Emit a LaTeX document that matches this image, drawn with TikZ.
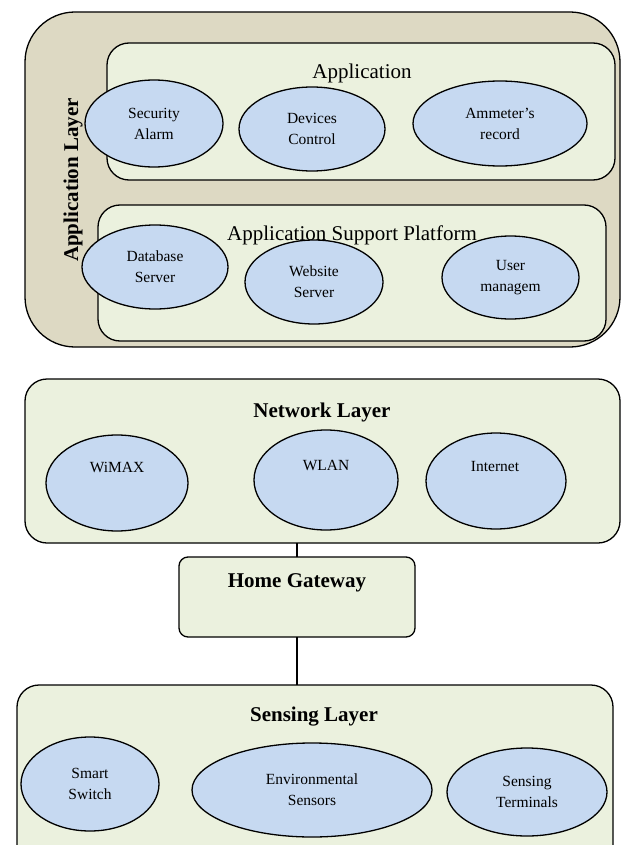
\documentclass[tikz,border=0pt]{standalone}
\usepackage{fontspec}
\setmainfont{Liberation Serif}
\usetikzlibrary{shapes.geometric}
\definecolor{tanbg}{RGB}{221,217,195}
\definecolor{greenbg}{RGB}{235,241,222}
\definecolor{ellblue}{RGB}{198,217,241}
\begin{document}
\begin{tikzpicture}[x=1pt,y=-1pt,
  every node/.style={inner sep=0pt, outer sep=0pt},
  outerbox/.style={draw=black, line width=1.3pt, fill=tanbg, rounded corners=50pt},
  layerbox/.style={draw=black, line width=1.3pt, fill=greenbg, rounded corners=22pt},
  gatebox/.style={draw=black, line width=1.3pt, fill=greenbg, rounded corners=9pt},
  ell/.style={ellipse, draw=black, line width=1.3pt, fill=ellblue, align=center, font=\fontsize{15.5}{21}\selectfont},
  elltext/.style={font=\fontsize{15.5}{21}\selectfont},
  title/.style={font=\fontsize{21}{24}\selectfont},
  btitle/.style={font=\bfseries\fontsize{21}{24}\selectfont},
  conn/.style={draw=black, line width=1.3pt}]
\clip (0,0) rectangle (622,845);
\fill[white] (0,0) rectangle (622,845);
% Application layer
\node[outerbox, minimum width=595pt, minimum height=335pt] (applayer) at (322.5,179.5) {};
\node[layerbox, minimum width=508pt, minimum height=137pt] (app) at (361,111.5) {};
\node[layerbox, minimum width=508pt, minimum height=136pt] (asp) at (352,273) {};
\node[btitle, rotate=90] (applayerlbl) at (73,180) {Application Layer};
\node[title] (applbl) at (362,73) {Application};
\node[title] (asplbl) at (352,235) {Application Support Platform};
\node[ell, minimum width=138pt, minimum height=87pt] (sec) at (154,123.5) {Security\\Alarm};
\node[ell, minimum width=146pt, minimum height=84pt] (dev) at (312,129) {Devices\\Control};
\node[ell, minimum width=174pt, minimum height=85pt] (amm) at (500,123.5) {Ammeter’s\\record};
\node[ell, minimum width=146pt, minimum height=84pt] (db) at (155,267) {Database\\Server};
\node[ell, minimum width=138pt, minimum height=84pt] (web) at (314,282) {Website\\Server};
\node[ell, minimum width=137pt, minimum height=83pt] (user) at (510.5,277.5) {User\\managem};
% Network layer
\node[layerbox, minimum width=595pt, minimum height=164pt] (net) at (322.5,461) {};
\node[btitle] (netlbl) at (322,412) {Network Layer};
\node[ell, minimum width=142pt, minimum height=96pt] (wimax) at (117,483) {};
\node[elltext] (wimaxlbl) at (117,467) {WiMAX};
\node[ell, minimum width=144pt, minimum height=100pt] (wlan) at (326,480) {};
\node[elltext] (wlanlbl) at (326,465) {WLAN};
\node[ell, minimum width=140pt, minimum height=96pt] (inet) at (496,481) {};
\node[elltext] (inetlbl) at (495,466) {Internet};
% Gateway
\node[gatebox, minimum width=236pt, minimum height=80pt] (gw) at (297,597) {};
\node[btitle] (gwlbl) at (297,583) {Home Gateway};
% Sensing layer
\node[layerbox, minimum width=596pt, minimum height=200pt] (sense) at (315,785) {};
\node[btitle] (senselbl) at (314,717) {Sensing Layer};
\node[ell, minimum width=138pt, minimum height=94pt] (smart) at (90,784) {Smart\\Switch};
\node[ell, minimum width=240pt, minimum height=94pt] (env) at (312,790) {Environmental\\Sensors};
\node[ell, minimum width=160pt, minimum height=88pt] (term) at (527,792) {Sensing\\Terminals};
% connectors
\draw[conn] (gw.north) -- (gw.north |- net.south);
\draw[conn] (gw.south) -- (gw.south |- sense.north);
\end{tikzpicture}
\end{document}
